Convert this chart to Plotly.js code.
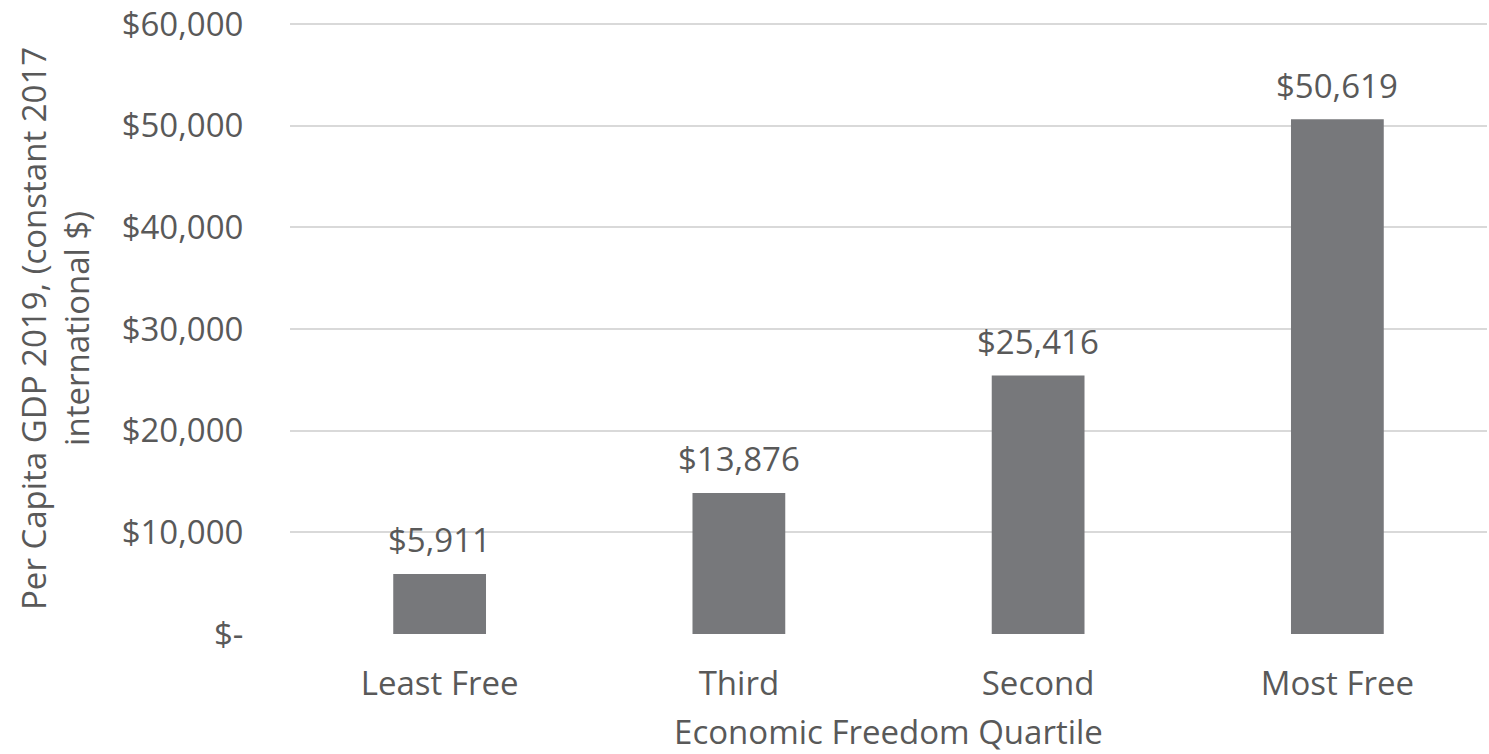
<!DOCTYPE html>
<html>
<head>
<meta charset="utf-8">
<script src="https://cdn.plot.ly/plotly-3.0.1.min.js"></script>
<style>html,body{margin:0;padding:0;background:#fff;}#chart{width:1489px;height:754px;}</style>
</head>
<body>
<div id="chart"></div>
<script>
var categories = ["Least Free", "Third", "Second", "Most Free"];
var gdpValues = [5911, 13876, 25416, 50619];
var valueLabels = ["$5,911", "$13,876", "$25,416", "$50,619"];
var yTickVals = [0, 10000, 20000, 30000, 40000, 50000, 60000];
var yTickText = ["$-", "$10,000", "$20,000", "$30,000", "$40,000", "$50,000", "$60,000"];

var FONT = "Open Sans, sans-serif";
var TXT = "#595959";
var FS = 33;

var trace = {
  type: "bar",
  x: categories,
  y: gdpValues,
  marker: {color: "#77787b"},
  hoverinfo: "none"
};

var labelAnnotations = categories.map(function (c, i) {
  return {
    x: c, y: gdpValues[i], xref: "x", yref: "y",
    text: valueLabels[i], showarrow: false,
    xanchor: "center", yanchor: "middle", yshift: 34,
    font: {family: FONT, size: FS, color: TXT}
  };
});

var layout = {
  width: 1489, height: 754,
  margin: {l: 290, r: 2, t: 20, b: 120},
  paper_bgcolor: "#fff", plot_bgcolor: "#fff",
  showlegend: false,
  bargap: 0.69,
  font: {family: FONT, color: TXT, size: FS},
  xaxis: {
    type: "category",
    tickfont: {family: FONT, size: FS, color: TXT},
    ticks: "outside", ticklen: 20, tickcolor: "rgba(0,0,0,0)",
    showgrid: false, zeroline: false, showline: false,
    title: {text: "Economic Freedom Quartile", font: {family: FONT, size: FS, color: TXT}, standoff: 19},
    automargin: false
  },
  yaxis: {
    range: [0, 60393],
    tickvals: yTickVals, ticktext: yTickText,
    tickfont: {family: FONT, size: FS, color: TXT},
    ticks: "outside", ticklen: 39, tickcolor: "rgba(0,0,0,0)",
    showgrid: true, gridcolor: "#d9d9d9", gridwidth: 2,
    zeroline: false, showline: false,
    automargin: false
  },
  annotations: labelAnnotations.concat([{
    text: "Per Capita GDP 2019, (constant 2017<br>international $)",
    textangle: -90,
    xref: "paper", yref: "paper",
    x: (55 - 290) / 1197, y: (634 - 329) / 614,
    xanchor: "center", yanchor: "middle",
    showarrow: false,
    font: {family: FONT, size: FS, color: TXT}
  }])
};

Plotly.newPlot("chart", [trace], layout, {displayModeBar: false, staticPlot: true});
</script>
</body>
</html>
